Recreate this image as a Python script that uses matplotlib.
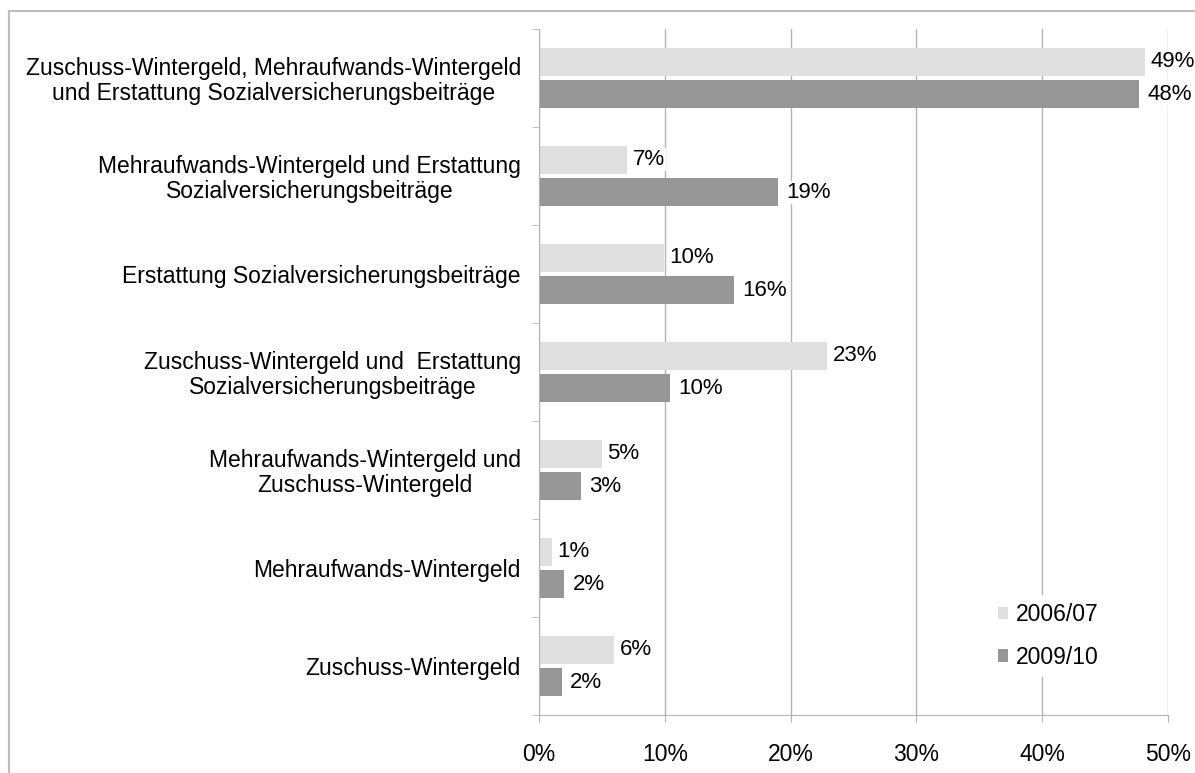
import matplotlib.pyplot as plt
import numpy as np
from matplotlib.lines import Line2D

plt.rcParams["font.family"] = ["Liberation Sans", "DejaVu Sans"]

categories = [
    "Zuschuss-Wintergeld, Mehraufwands-Wintergeld\nund Erstattung Sozialversicherungsbeiträge",
    "Mehraufwands-Wintergeld und Erstattung\nSozialversicherungsbeiträge",
    "Erstattung Sozialversicherungsbeiträge",
    "Zuschuss-Wintergeld und  Erstattung\nSozialversicherungsbeiträge",
    "Mehraufwands-Wintergeld und\nZuschuss-Wintergeld",
    "Mehraufwands-Wintergeld",
    "Zuschuss-Wintergeld",
]
series_names = ["2006/07", "2009/10"]
# bar lengths, labels as printed
share_0607 = [48.2, 7.0, 9.9, 22.9, 5.0, 1.0, 6.0]
share_0910 = [47.7, 19.0, 15.5, 10.4, 3.3, 2.0, 1.8]
labels_0607 = ["49%", "7%", "10%", "23%", "5%", "1%", "6%"]
labels_0910 = ["48%", "19%", "16%", "10%", "3%", "2%", "2%"]
x_ticks = [0, 10, 20, 30, 40, 50]

light = "#e0e0e0"
dark = "#969696"
grid_c = "#b4b4b4"
fs = 16.5

fig = plt.figure(figsize=(11.95, 7.73), dpi=100)
ax = fig.add_axes([539 / 1195, 1 - 715 / 773, (1168 - 539) / 1195, (715 - 29) / 773])

y = np.arange(len(categories))
h = 0.28
off = 0.165
ax.barh(y - off, share_0607, height=h, color=light, label=series_names[0], zorder=2)
ax.barh(y + off, share_0910, height=h, color=dark, label=series_names[1], zorder=2)

for yi, v, lab in zip(y - off, share_0607, labels_0607):
    ax.annotate(lab, (v, yi), xytext=(4, 0), textcoords="offset points", va="center",
                ha="left", fontsize=16, zorder=3,
                bbox=dict(boxstyle="square,pad=0.05", fc="white", ec="none"))
for yi, v, lab in zip(y + off, share_0910, labels_0910):
    ax.annotate(lab, (v, yi), xytext=(6, 0), textcoords="offset points", va="center",
                ha="left", fontsize=16, zorder=3,
                bbox=dict(boxstyle="square,pad=0.05", fc="white", ec="none"))

ax.set_xlim(0, 50)
ax.set_ylim(len(categories) - 0.5, -0.5)

ax.set_xticks(x_ticks)
ax.set_xticklabels([f"{t}%" for t in x_ticks], fontsize=fs)
ax.tick_params(axis="x", length=5, color=grid_c, pad=15)

ax.set_yticks(y)
ax.set_yticklabels(categories, fontsize=fs, multialignment="center", linespacing=1.1)
ax.set_yticks(np.arange(len(categories) + 1) - 0.5, minor=True)
ax.tick_params(axis="y", which="major", length=0, pad=13)
ax.tick_params(axis="y", which="minor", length=5, color=grid_c)

ax.xaxis.grid(True, color=grid_c, linewidth=1)
ax.set_axisbelow(True)
for s in ["top", "right"]:
    ax.spines[s].set_visible(False)
for s in ["left", "bottom"]:
    ax.spines[s].set_color(grid_c)

leg = ax.legend(loc="center left", bbox_to_anchor=(990 / 1195, 1 - 636 / 773),
                bbox_transform=fig.transFigure, fontsize=fs, frameon=True,
                handlelength=0.45, handleheight=0.45, handletextpad=0.35,
                labelspacing=0.85, borderpad=0.35, borderaxespad=0)
leg.get_frame().set_facecolor("white")
leg.get_frame().set_edgecolor("none")
leg.get_frame().set_alpha(1)

# outer chart border (only left and top visible in the crop)
fig.add_artist(Line2D([9 / 1195, 9 / 1195], [0, 1 - 11 / 773], color="#bdbdbd", lw=1.5))
fig.add_artist(Line2D([9 / 1195, 1], [1 - 11 / 773, 1 - 11 / 773], color="#bdbdbd", lw=1.5))

fig.savefig("out.png", dpi=100)
